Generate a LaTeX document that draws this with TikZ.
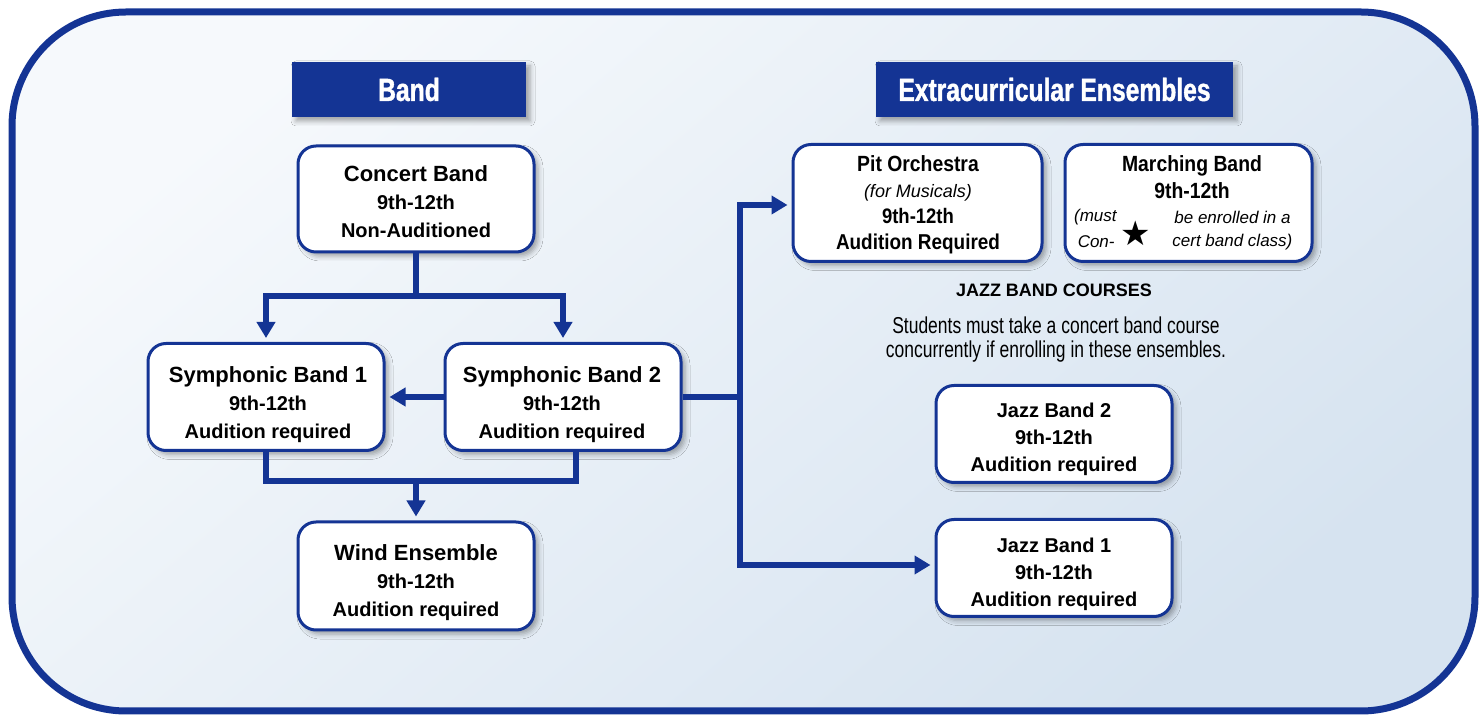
\documentclass[tikz,border=0pt]{standalone}
\usepackage{fontspec}
\setmainfont{Liberation Sans}
\newfontfamily\headfont[FakeStretch=0.77,FakeBold=1.2]{Liberation Sans}
\newfontfamily\narrowfont[FakeStretch=0.88]{Liberation Sans}
\newfontfamily\condfont[FakeStretch=0.76]{Liberation Sans}
\newfontfamily\symfont{DejaVu Sans}
\usetikzlibrary{arrows.meta,shadows.blur}
\definecolor{navy}{RGB}{20,52,148}
\definecolor{bgA}{RGB}{246,249,252}
\definecolor{bgB}{RGB}{214,227,240}
\newcommand\mytitle{\fontsize{11}{14}\selectfont}
\newcommand\myline{\fontsize{10}{14}\selectfont}
\begin{document}
\begin{tikzpicture}[x=0.5pt,y=-0.5pt,
  softshadow/.style={blur shadow={shadow xshift=2pt,shadow yshift=-2pt,shadow blur radius=2.5pt,shadow opacity=35}},
  box/.style={draw=navy,line width=1.5pt,fill=white,rounded corners=9pt,inner sep=0pt,softshadow},
  btext/.style={inner sep=0pt,align=center,font=\bfseries\fontsize{10}{14}\selectfont},
  jtext/.style={btext,font=\bfseries\fontsize{10}{13.5}\selectfont},
  xtext/.style={btext,font=\narrowfont\bfseries\fontsize{10.5}{13}\selectfont},
  head/.style={fill=navy,text=white,inner sep=0pt,font=\headfont\bfseries\fontsize{16}{18}\selectfont,softshadow},
  conn/.style={draw=navy,line width=3pt},
  arr/.style={conn,-{Triangle[length=8pt,width=9pt]},shorten >=2pt},
  ital/.style={inner sep=0pt,font=\itshape\fontsize{8.5}{10}\selectfont}]
\useasboundingbox (0,0) rectangle (1479,715);
% frame
\path[draw=navy,line width=3.5pt,rounded corners=57pt,top color=bgA,bottom color=bgB,shading angle=40]
  (12,12) rectangle (1475,711);

% headers
\node[head,minimum width=117pt,minimum height=27.5pt] (hband) at (409,89.5) {Band};
\node[head,minimum width=178.5pt,minimum height=27.5pt] (hextra) at (1054.5,89.5) {Extracurricular Ensembles};

% band boxes
\node[box,minimum width=118pt,minimum height=53pt] (cb) at (416,199) {};
\node[btext] (cbt) at (416,202) {{\mytitle Concert Band}\\{\myline 9th-12th}\\{\myline Non-Auditioned}};
\node[box,minimum width=118pt,minimum height=53.5pt] (sb1) at (266,397) {};
\node[btext] (sb1t) at (268,405) {{\mytitle Symphonic Band 1}\\{\myline 9th-12th}\\{\myline Audition required}};
\node[box,minimum width=118pt,minimum height=53.5pt] (sb2) at (563,397) {};
\node[btext] (sb2t) at (562,405) {{\mytitle Symphonic Band 2}\\{\myline 9th-12th}\\{\myline Audition required}};
\node[box,minimum width=118pt,minimum height=54pt] (we) at (416,576) {};
\node[btext] (wet) at (416,583) {{\mytitle Wind Ensemble}\\{\myline 9th-12th}\\{\myline Audition required}};

% extracurricular boxes
\node[box,minimum width=124.5pt,minimum height=58.5pt] (pit) at (917.5,203) {};
\node[xtext] (pitt) at (918,205)
  {{\fontsize{11}{13}\selectfont Pit Orchestra}\\
   {\normalfont\itshape\fontsize{9}{13}\selectfont (for Musicals)}\\
   {\fontsize{10.5}{13}\selectfont 9th-12th}\\
   {\fontsize{10.75}{13}\selectfont Audition Required}};
\node[box,minimum width=123.5pt,minimum height=58.5pt] (mb) at (1188.5,203) {};
\node[inner sep=0pt,font=\narrowfont\bfseries\fontsize{11}{13}\selectfont] (mbt) at (1192,166) {Marching Band};
\node[inner sep=0pt,font=\narrowfont\bfseries\fontsize{11}{13}\selectfont] (mbg) at (1192,191) {9th-12th};
\node[ital,anchor=east] (mbm) at (1117,217) {(must};
\node[ital,anchor=east] (mbc) at (1115,242) {Con-};
\node[inner sep=0pt,font=\symfont\fontsize{17}{18}\selectfont] (star) at (1136,233) {★};
\node[ital,anchor=west] (mbe) at (1174,217) {be enrolled in a};
\node[ital,anchor=west] (mbk) at (1172,242) {cert band class)};

% jazz
\node[inner sep=0pt,font=\bfseries\fontsize{9}{11}\selectfont] (jbc) at (1054,290) {JAZZ BAND COURSES};
\node[inner sep=0pt,align=center,font=\condfont\fontsize{11.5}{12}\selectfont] (jbn) at (1056,340)
  {Students must take a concert band course\\concurrently if enrolling in these ensembles.};
\node[box,minimum width=118pt,minimum height=48.5pt] (jb2) at (1054,434) {};
\node[jtext] (jb2t) at (1054,439) {Jazz Band 2\\9th-12th\\Audition required};
\node[box,minimum width=118pt,minimum height=48.5pt] (jb1) at (1054,568) {};
\node[jtext] (jb1t) at (1054,574) {Jazz Band 1\\9th-12th\\Audition required};

% connectors
\coordinate (split) at (416,296);
\coordinate (merge) at (416,481);
\coordinate (jn) at (740,397);
\draw[conn] (cb.south) -- (split);
\draw[arr] (split) -| (sb1.north);
\draw[arr] (split) -| (sb2.north);
\draw[arr] (sb2.west) -- (sb1.east);
\draw[conn] (sb1.south) |- (merge);
\draw[conn] ([xshift=6.5pt]sb2.south) |- (merge);
\draw[arr] (merge) -- (we.north);
\draw[conn] (sb2.east) -- (jn);
\draw[arr] (jn) |- ([yshift=-1pt]pit.west);
\draw[arr] (jn) |- ([yshift=1.5pt]jb1.west);
\end{tikzpicture}
\end{document}
